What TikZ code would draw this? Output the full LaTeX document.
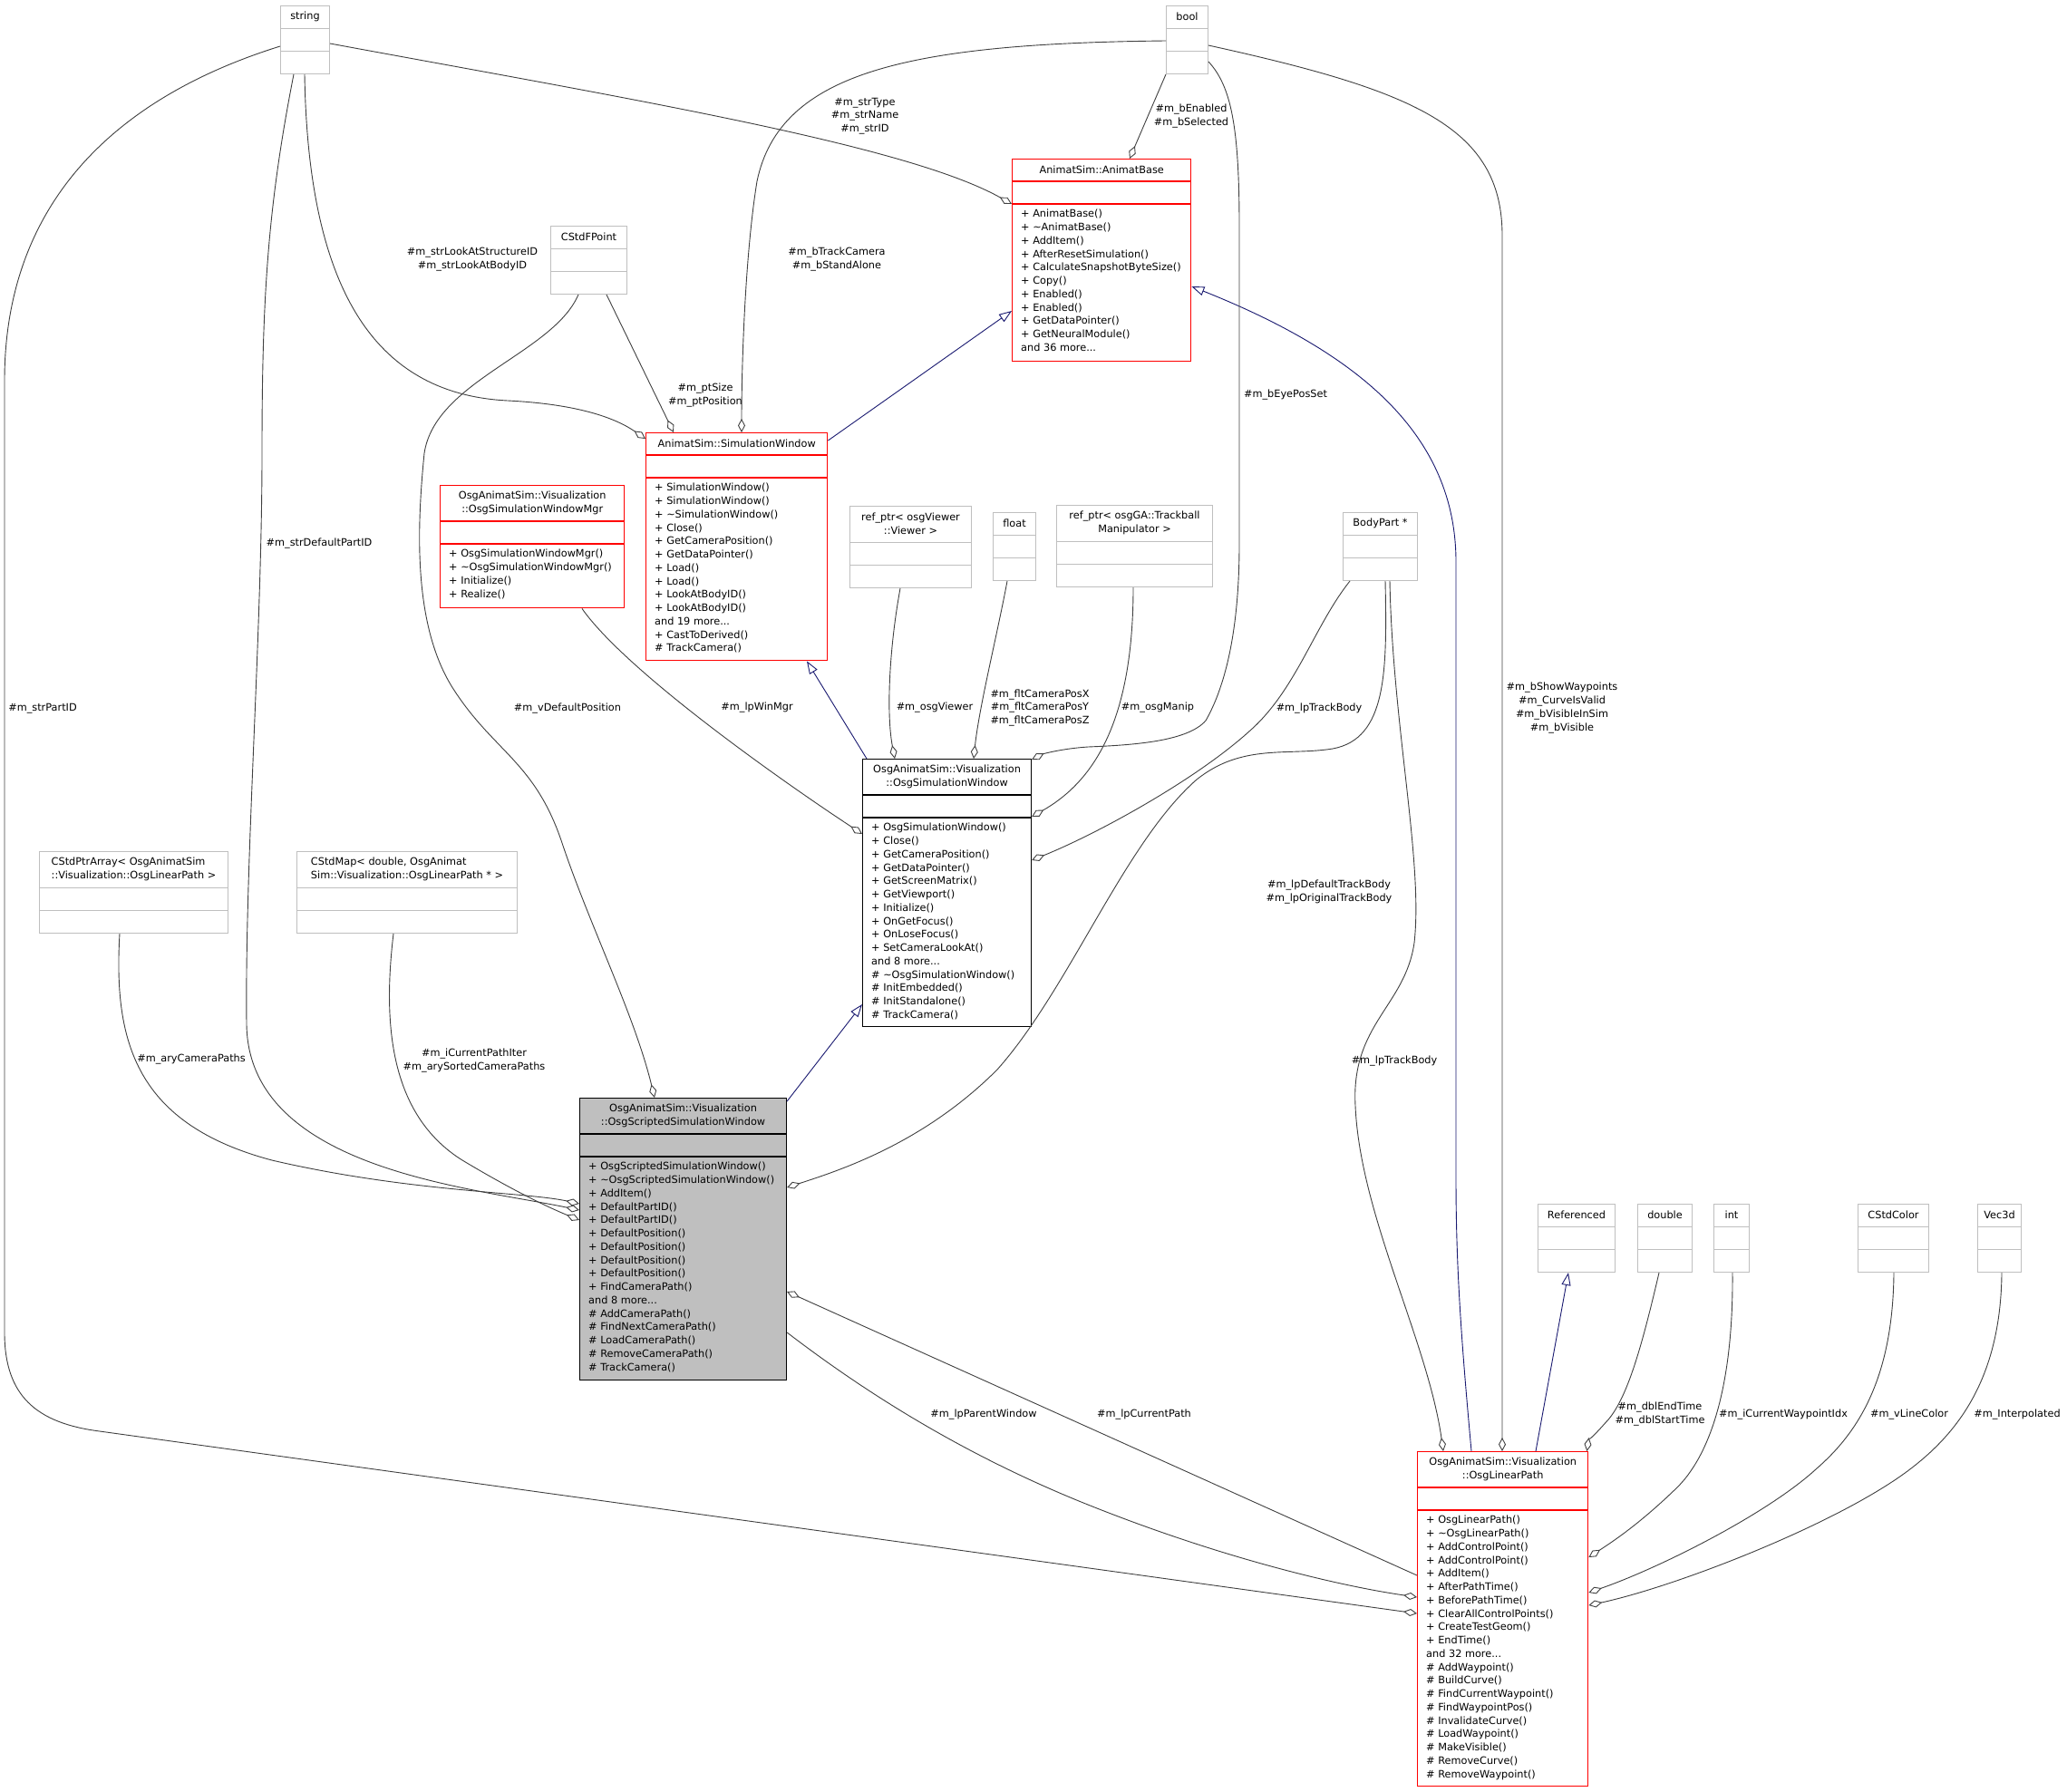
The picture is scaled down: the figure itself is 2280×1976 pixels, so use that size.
\documentclass[tikz,border=0pt]{standalone}
\usepackage{fontspec}
\setmainfont{DejaVu Sans}
\usetikzlibrary{arrows.meta,calc}

\definecolor{boxgray}{HTML}{BFBFBF}
\definecolor{edgegray}{HTML}{404040}
\definecolor{inhblue}{HTML}{191970}
\definecolor{boxred}{HTML}{FF0000}

\newcommand{\dgfont}{\fontsize{11.3}{14.75}\selectfont}
\newcommand{\lefttitle}[2]{\begin{tabular}{@{}l@{}}#1\\#2\end{tabular}}
% name, style, x, y, width, height, header height, title, methods
\newcommand{\umlclass}[9]{%
  \node[#2, minimum width=#5pt, minimum height=#6pt, anchor=north west] (#1) at (#3,#4) {};
  \draw[#2] ($(#1.north west)+(0,#7)$) -- ($(#1.north east)+(0,#7)$);
  \draw[#2] ($(#1.north west)+(0,#7+25)$) -- ($(#1.north east)+(0,#7+25)$);
  \node[clsname] (#1-name) at ($(#1.north)+(0,#7/2)$) {#8};
  \node[clsops] (#1-ops) at ($(#1.north west)+(10,#7+31)$) {#9};
}

\begin{document}
\begin{tikzpicture}[x=1pt, y=-1pt,
  graycls/.style={draw=boxgray, fill=white, line width=1pt},
  redcls/.style={draw=boxred, fill=white, line width=1.4pt},
  blackcls/.style={draw=black, fill=white, line width=1.1pt},
  focuscls/.style={draw=black, fill=boxgray, line width=1.1pt},
  clsname/.style={inner sep=0pt, align=center, font=\dgfont},
  clsops/.style={inner sep=0pt, anchor=north west, align=left, font=\dgfont},
  elabel/.style={inner sep=0pt, align=center, font=\dgfont},
  member/.style={draw=edgegray, line width=0.9pt, -{Diamond[open, length=15pt, width=8pt]}},
  inherit/.style={draw=inhblue, line width=0.9pt, -{Triangle[open, length=14pt, width=10pt]}}]
\path[fill=white, use as bounding box] (0,0) rectangle (2280,1976);

% classes
\umlclass{string}{graycls}{309}{6}{54}{75}{25}{string}{}
\umlclass{bool}{graycls}{1286}{6}{46}{75}{25}{bool}{}
\umlclass{abase}{redcls}{1116}{175}{197}{223}{25}{AnimatSim::AnimatBase}{+ AnimatBase()\\+ \textasciitilde AnimatBase()\\+ AddItem()\\+ AfterResetSimulation()\\+ CalculateSnapshotByteSize()\\+ Copy()\\+ Enabled()\\+ Enabled()\\+ GetDataPointer()\\+ GetNeuralModule()\\and 36 more...}
\umlclass{fpoint}{graycls}{607}{249}{84}{75}{25}{CStdFPoint}{}
\umlclass{simwin}{redcls}{712}{477}{200}{251}{25}{AnimatSim::SimulationWindow}{+ SimulationWindow()\\+ SimulationWindow()\\+ \textasciitilde SimulationWindow()\\+ Close()\\+ GetCameraPosition()\\+ GetDataPointer()\\+ Load()\\+ Load()\\+ LookAtBodyID()\\+ LookAtBodyID()\\and 19 more...\\+ CastToDerived()\\\# TrackCamera()}
\umlclass{winmgr}{redcls}{485}{535}{203}{135}{40}{OsgAnimatSim::Visualization\\::OsgSimulationWindowMgr}{+ OsgSimulationWindowMgr()\\+ \textasciitilde OsgSimulationWindowMgr()\\+ Initialize()\\+ Realize()}
\umlclass{viewer}{graycls}{937}{558}{134}{90}{40}{ref\_ptr< osgViewer\\::Viewer >}{}
\umlclass{float}{graycls}{1095}{565}{47}{75}{25}{float}{}
\umlclass{manip}{graycls}{1165}{557}{172}{90}{40}{ref\_ptr< osgGA::Trackball\\Manipulator >}{}
\umlclass{bodypart}{graycls}{1481}{565}{82}{75}{25}{BodyPart *}{}
\umlclass{osgsim}{blackcls}{951}{837}{186}{295}{40}{OsgAnimatSim::Visualization\\::OsgSimulationWindow}{+ OsgSimulationWindow()\\+ Close()\\+ GetCameraPosition()\\+ GetDataPointer()\\+ GetScreenMatrix()\\+ GetViewport()\\+ Initialize()\\+ OnGetFocus()\\+ OnLoseFocus()\\+ SetCameraLookAt()\\and 8 more...\\\# \textasciitilde OsgSimulationWindow()\\\# InitEmbedded()\\\# InitStandalone()\\\# TrackCamera()}
\umlclass{ptrarray}{graycls}{43}{939}{208}{90}{40}{\lefttitle{CStdPtrArray< OsgAnimatSim}{::Visualization::OsgLinearPath >}}{}
\umlclass{stdmap}{graycls}{327}{939}{243}{90}{40}{\lefttitle{CStdMap< double, OsgAnimat}{Sim::Visualization::OsgLinearPath * >}}{}
\umlclass{scripted}{focuscls}{639}{1211}{228}{311}{40}{OsgAnimatSim::Visualization\\::OsgScriptedSimulationWindow}{+ OsgScriptedSimulationWindow()\\+ \textasciitilde OsgScriptedSimulationWindow()\\+ AddItem()\\+ DefaultPartID()\\+ DefaultPartID()\\+ DefaultPosition()\\+ DefaultPosition()\\+ DefaultPosition()\\+ DefaultPosition()\\+ FindCameraPath()\\and 8 more...\\\# AddCameraPath()\\\# FindNextCameraPath()\\\# LoadCameraPath()\\\# RemoveCameraPath()\\\# TrackCamera()}
\umlclass{referenced}{graycls}{1696}{1328}{85}{75}{25}{Referenced}{}
\umlclass{double}{graycls}{1806}{1328}{60}{75}{25}{double}{}
\umlclass{int}{graycls}{1890}{1328}{39}{75}{25}{int}{}
\umlclass{color}{graycls}{2049}{1328}{78}{75}{25}{CStdColor}{}
\umlclass{vec}{graycls}{2181}{1328}{48}{75}{25}{Vec3d}{}
\umlclass{linpath}{redcls}{1563}{1601}{188}{369}{40}{OsgAnimatSim::Visualization\\::OsgLinearPath}{+ OsgLinearPath()\\+ \textasciitilde OsgLinearPath()\\+ AddControlPoint()\\+ AddControlPoint()\\+ AddItem()\\+ AfterPathTime()\\+ BeforePathTime()\\+ ClearAllControlPoints()\\+ CreateTestGeom()\\+ EndTime()\\and 32 more...\\\# AddWaypoint()\\\# BuildCurve()\\\# FindCurrentWaypoint()\\\# FindWaypointPos()\\\# InvalidateCurve()\\\# LoadWaypoint()\\\# MakeVisible()\\\# RemoveCurve()\\\# RemoveWaypoint()}

% inheritance
\draw[inherit] ($(simwin.north east)+(0,9)$) -- ($(abase.north west)+(0,168)$);
\draw[inherit] ($(osgsim.north west)+(5,0)$) -- ($(simwin.south west)+(178,0)$);
\draw[inherit] ($(scripted.north east)+(0,4)$) -- ($(osgsim.north west)+(0,271)$);
\draw[inherit] ($(linpath.north west)+(60,0)$) .. controls (1612,1480) and (1606,1400) .. (1606,1300) -- (1606,620) .. controls (1606,480) and (1500,390) .. ($(abase.north east)+(0,141)$);
\draw[inherit] ($(linpath.north west)+(131,0)$) -- ($(referenced.south west)+(34,0)$);

% members
\draw[member] ($(string.north west)+(0,45)$) .. controls (120,110) and (5,230) .. (5,420) -- (5,1470) .. controls (5,1540) and (40,1570) .. (110,1579) -- ($(linpath.north west)+(0,179)$);
\draw[member] ($(string.south west)+(15,0)$) .. controls (295,230) and (289,330) .. (289,500) .. controls (289,700) and (270,950) .. (272,1130) .. controls (274,1290) and (520,1310) .. ($(scripted.north west)+(0,124)$);
\draw[member] ($(string.south west)+(27,0)$) .. controls (340,330) and (420,435) .. (560,442) .. controls (640,446) and (680,462) .. ($(simwin.north west)+(0,7)$);
\draw[member] ($(string.north east)+(0,42)$) .. controls (700,110) and (1000,160) .. ($(abase.north west)+(0,50)$);
\draw[member] (bool.south west) -- ($(abase.north west)+(130,0)$);
\draw[member] ($(bool.north west)+(0,39)$) .. controls (1000,48) and (860,80) .. (835,200) .. controls (822,280) and (818,400) .. ($(simwin.north west)+(106,0)$);
\draw[member] ($(bool.north east)+(0,62)$) .. controls (1358,95) and (1367,140) .. (1367,250) -- (1367,600) .. controls (1367,700) and (1350,760) .. (1330,795) .. controls (1310,818) and (1250,822) .. (1200,824) .. controls (1170,826) and (1150,832) .. ($(osgsim.north east)+(0,1)$);
\draw[member] ($(bool.north east)+(0,44)$) .. controls (1560,100) and (1657,140) .. (1657,260) -- ($(linpath.north west)+(94,0)$);
\draw[member] ($(fpoint.south west)+(62,0)$) -- ($(simwin.north west)+(31,0)$);
\draw[member] ($(fpoint.south west)+(31,0)$) .. controls (610,390) and (480,420) .. (468,500) .. controls (460,580) and (455,690) .. (500,760) .. controls (545,830) and (590,840) .. (620,930) .. controls (650,1020) and (700,1120) .. ($(scripted.north west)+(83,0)$);
\draw[member] ($(winmgr.south west)+(157,0)$) .. controls (690,740) and (860,860) .. ($(osgsim.north west)+(0,83)$);
\draw[member] ($(viewer.south west)+(56,0)$) .. controls (980,720) and (978,790) .. ($(osgsim.north west)+(36,0)$);
\draw[member] ($(float.south west)+(16,0)$) .. controls (1100,700) and (1080,780) .. ($(osgsim.north west)+(123,0)$);
\draw[member] ($(manip.south west)+(85,0)$) .. controls (1250,790) and (1210,860) .. ($(osgsim.north east)+(0,64)$);
\draw[member] ($(bodypart.south west)+(8,0)$) .. controls (1450,690) and (1430,760) .. (1380,805) .. controls (1320,860) and (1210,920) .. ($(osgsim.north east)+(0,112)$);
\draw[member] ($(bodypart.south west)+(47,0)$) .. controls (1530,740) and (1530,815) .. (1470,826) .. controls (1420,834) and (1370,820) .. (1320,860) .. controls (1240,930) and (1180,1090) .. (1100,1180) .. controls (1020,1260) and (930,1290) .. ($(scripted.north east)+(0,99)$);
\draw[member] ($(bodypart.south west)+(52,0)$) .. controls (1536,800) and (1570,950) .. (1560,1040) .. controls (1550,1110) and (1490,1130) .. (1495,1220) .. controls (1500,1340) and (1575,1480) .. ($(linpath.north west)+(29,0)$);
\draw[member] ($(ptrarray.south west)+(89,0)$) .. controls (125,1150) and (150,1240) .. (300,1280) .. controls (450,1315) and (580,1315) .. ($(scripted.north west)+(0,117)$);
\draw[member] ($(stdmap.south west)+(107,0)$) .. controls (422,1130) and (430,1230) .. (510,1280) .. controls (560,1310) and (600,1330) .. ($(scripted.north west)+(0,135)$);
\draw[member] ($(double.south west)+(24,0)$) .. controls (1810,1490) and (1795,1540) .. (1775,1565) .. controls (1760,1582) and (1752,1590) .. ($(linpath.north east)+(-2,0)$);
\draw[member] ($(int.south west)+(21,0)$) .. controls (1912,1520) and (1890,1600) .. (1851,1640) .. controls (1810,1680) and (1780,1700) .. ($(linpath.north east)+(0,117)$);
\draw[member] ($(color.south west)+(40,0)$) .. controls (2088,1520) and (2050,1580) .. (2004,1620) .. controls (1950,1670) and (1830,1730) .. ($(linpath.north east)+(0,156)$);
\draw[member] ($(vec.south west)+(27,0)$) .. controls (2207,1520) and (2160,1580) .. (2108,1620) .. controls (2030,1680) and (1850,1750) .. ($(linpath.north east)+(0,170)$);
\draw[member] ($(scripted.north east)+(0,259)$) .. controls (940,1525) and (1050,1600) .. (1200,1660) .. controls (1350,1720) and (1480,1750) .. ($(linpath.north west)+(0,161)$);
\draw[member] ($(linpath.north west)+(0,137)$) -- ($(scripted.north east)+(0,214)$);

% edge labels
\node[elabel] (l-partid) at (47,782) {\#m\_strPartID};
\node[elabel] (l-defpartid) at (352,600) {\#m\_strDefaultPartID};
\node[elabel] (l-lookat) at (521,286) {\#m\_strLookAtStructureID\\\#m\_strLookAtBodyID};
\node[elabel] (l-strtype) at (954,128) {\#m\_strType\\\#m\_strName\\\#m\_strID};
\node[elabel] (l-enabled) at (1314,128) {\#m\_bEnabled\\\#m\_bSelected};
\node[elabel] (l-trackcam) at (923,286) {\#m\_bTrackCamera\\\#m\_bStandAlone};
\node[elabel] (l-eyepos) at (1418,436) {\#m\_bEyePosSet};
\node[elabel] (l-showwp) at (1723,781) {\#m\_bShowWaypoints\\\#m\_CurveIsValid\\\#m\_bVisibleInSim\\\#m\_bVisible};
\node[elabel] (l-ptsize) at (778,436) {\#m\_ptSize\\\#m\_ptPosition};
\node[elabel] (l-defpos) at (626,782) {\#m\_vDefaultPosition};
\node[elabel] (l-winmgr) at (835,781) {\#m\_lpWinMgr};
\node[elabel] (l-viewer) at (1031,781) {\#m\_osgViewer};
\node[elabel] (l-campos) at (1147,781) {\#m\_fltCameraPosX\\\#m\_fltCameraPosY\\\#m\_fltCameraPosZ};
\node[elabel] (l-manip) at (1277,781) {\#m\_osgManip};
\node[elabel] (l-track1) at (1455,782) {\#m\_lpTrackBody};
\node[elabel] (l-deftrack) at (1466,984) {\#m\_lpDefaultTrackBody\\\#m\_lpOriginalTrackBody};
\node[elabel] (l-track2) at (1538,1171) {\#m\_lpTrackBody};
\node[elabel] (l-campaths) at (211,1169) {\#m\_aryCameraPaths};
\node[elabel] (l-pathiter) at (523,1170) {\#m\_iCurrentPathIter\\\#m\_arySortedCameraPaths};
\node[elabel] (l-parent) at (1085,1561) {\#m\_lpParentWindow};
\node[elabel] (l-curpath) at (1262,1561) {\#m\_lpCurrentPath};
\node[elabel] (l-times) at (1831,1560) {\#m\_dblEndTime\\\#m\_dblStartTime};
\node[elabel] (l-wpidx) at (1967,1561) {\#m\_iCurrentWaypointIdx};
\node[elabel] (l-linecol) at (2106,1561) {\#m\_vLineColor};
\node[elabel] (l-interp) at (2225,1561) {\#m\_Interpolated};
\end{tikzpicture}
\end{document}
